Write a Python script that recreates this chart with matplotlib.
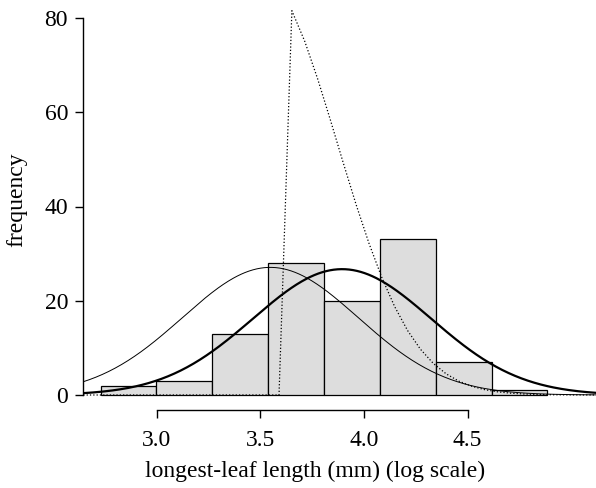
import math
import numpy as np
import matplotlib
matplotlib.use("Agg")
import matplotlib.pyplot as plt

# histogram of log longest-leaf length
bin_edges = [2.730, 2.999, 3.269, 3.538, 3.807, 4.077, 4.346, 4.615, 4.884]
counts = [2, 3, 13, 28, 20, 33, 7, 1]

# fitted curves (mean, sd on the log scale)
thin_mean, thin_sd = 3.548, 0.424
thick_mean, thick_sd = 3.894, 0.430
trunc_mean, trunc_sd, trunc_low = 3.505, 0.365, 3.64

x_ticks = [3.0, 3.5, 4.0, 4.5]
y_ticks = [0, 20, 40, 60, 80]

n_obs = sum(counts)
bw = bin_edges[1] - bin_edges[0]
scale = n_obs * bw


def npdf(x, m, s):
    return np.exp(-0.5 * ((x - m) / s) ** 2) / (s * math.sqrt(2 * math.pi))


plt.rcParams['font.family'] = ['Liberation Serif', 'DejaVu Serif']
fig = plt.figure(figsize=(5.96, 4.88), dpi=100)
ax = fig.add_axes([83 / 596, (488 - 410.08) / 488, 513 / 596, 407.16 / 488])
xlim = (2.6445, 5.119)
ax.set_xlim(*xlim)
ax.set_ylim(-3.2, 83.2)

ax.bar(bin_edges[:-1], counts, width=np.diff(bin_edges), align='edge',
       facecolor='#dddddd', edgecolor='black', linewidth=0.9, zorder=1)

xs = np.linspace(xlim[0], xlim[1], 400)
ax.plot(xs, scale * npdf(xs, thin_mean, thin_sd), color='black', lw=0.7, zorder=3)
ax.plot(xs, scale * npdf(xs, thick_mean, thick_sd), color='black', lw=1.6, zorder=3)

# truncated normal, coarse sampling like the original curve()
xd = 3.652 + 0.062 * np.arange(-17, 25)
tail = 1 - 0.5 * (1 + math.erf((trunc_low - trunc_mean) / (trunc_sd * math.sqrt(2))))
yd = np.where(xd >= trunc_low, scale * npdf(xd, trunc_mean, trunc_sd) / tail, 0.0)
ax.plot(xd, yd, color='black', lw=0.9, ls=':', zorder=3)

for s in ['top', 'right']:
    ax.spines[s].set_visible(False)
ax.spines['left'].set_bounds(0, 80)
ax.spines['bottom'].set_bounds(3.0, 4.5)
ax.spines['left'].set_linewidth(1.0)
ax.spines['bottom'].set_linewidth(1.0)
ax.set_xticks(x_ticks)
ax.set_xticklabels(['%.1f' % t for t in x_ticks])
ax.set_yticks(y_ticks)
ax.tick_params(axis='both', direction='out', length=5.8, width=1.0, labelsize=17)
ax.tick_params(axis='x', pad=8.5)
ax.tick_params(axis='y', pad=5)

fig.text(315 / 596, 1 - 477 / 488, 'longest-leaf length (mm) (log scale)',
         ha='center', va='baseline', fontsize=17)
fig.text(17 / 596, 1 - 200 / 488, 'frequency', rotation=90,
         ha='center', va='center', fontsize=17)

fig.savefig('out.png', dpi=100)
